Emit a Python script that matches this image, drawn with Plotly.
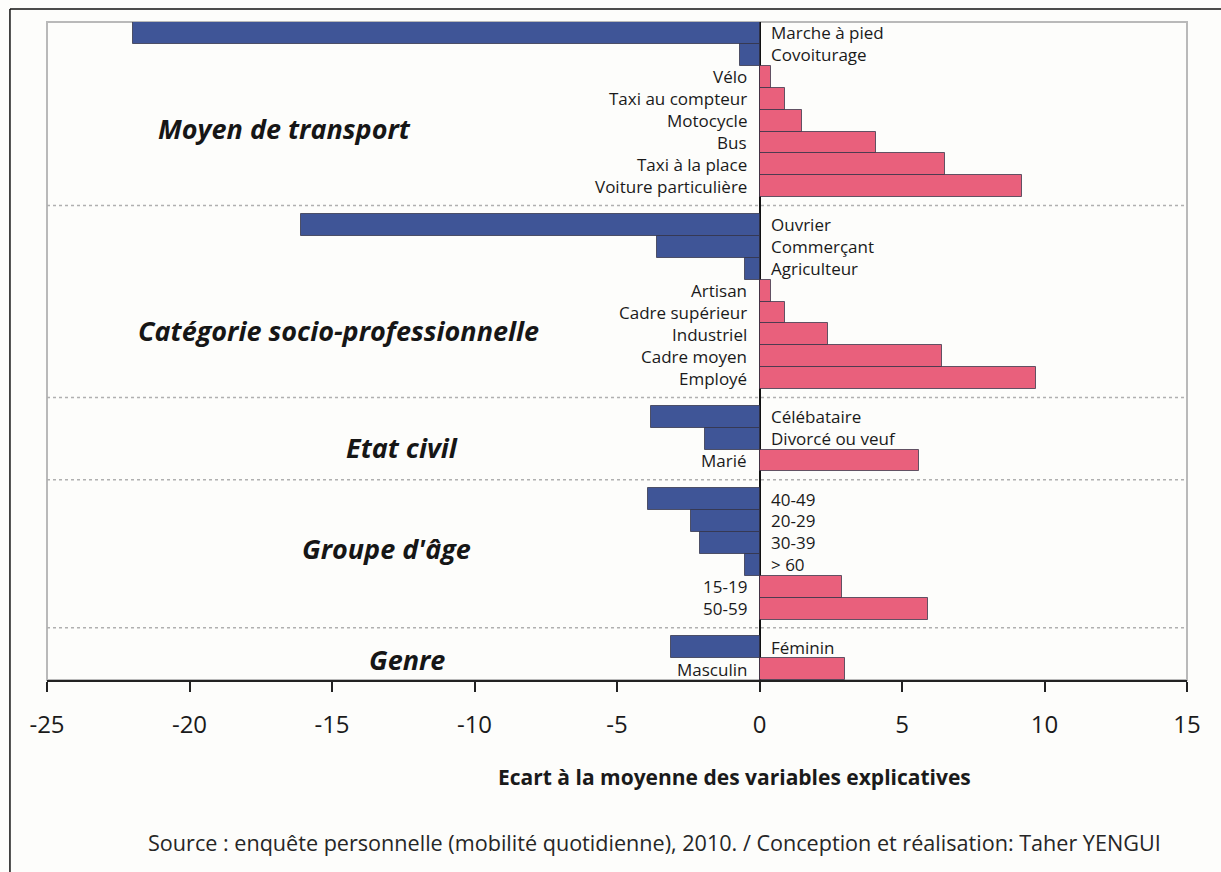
import plotly.graph_objects as go

# Ecarts à la moyenne, par variable explicative
groups = ["Moyen de transport", "Catégorie socio-professionnelle",
          "Etat civil", "Groupe d'âge", "Genre"]

transport_labels = ["Marche à pied", "Covoiturage", "Vélo", "Taxi au compteur",
                    "Motocycle", "Bus", "Taxi à la place", "Voiture particulière"]
transport_values = [-22.0, -0.7, 0.4, 0.9, 1.5, 4.1, 6.5, 9.2]

csp_labels = ["Ouvrier", "Commerçant", "Agriculteur", "Artisan",
              "Cadre supérieur", "Industriel", "Cadre moyen", "Employé"]
csp_values = [-16.1, -3.6, -0.5, 0.4, 0.9, 2.4, 6.4, 9.7]

civil_labels = ["Célébataire", "Divorcé ou veuf", "Marié"]
civil_values = [-3.8, -1.9, 5.6]

age_labels = ["40-49", "20-29", "30-39", "> 60", "15-19", "50-59"]
age_values = [-3.9, -2.4, -2.1, -0.5, 2.9, 5.9]

genre_labels = ["Féminin", "Masculin"]
genre_values = [-3.1, 3.0]

x_ticks = [-25, -20, -15, -10, -5, 0, 5, 10, 15]
x_title = "Ecart à la moyenne des variables explicatives"
source_text = ("Source : enquête personnelle (mobilité quotidienne), 2010. / "
               "Conception et réalisation: Taher YENGUI")

group_rows = [
    (transport_labels, transport_values),
    (csp_labels, csp_values),
    (civil_labels, civil_values),
    (age_labels, age_values),
    (genre_labels, genre_values),
]

# Row positions: one slot per bar, with a small gap between groups
GAP = 0.76
labels, values, ypos, separators = [], [], [], []
slot = 0.0
for gi, (lab, val) in enumerate(group_rows):
    if gi > 0:
        separators.append(slot - 0.5 + GAP / 2)
        slot += GAP
    for l, v in zip(lab, val):
        labels.append(l)
        values.append(v)
        ypos.append(slot)
        slot += 1

BLUE = "#3f5597"
PINK = "#e9607c"
FONT = "Open Sans"
colors = [BLUE if v < 0 else PINK for v in values]

fig = go.Figure()
fig.add_trace(go.Bar(
    x=values, y=ypos, orientation="h", width=1,
    marker=dict(color=colors, line=dict(color="rgba(50,50,70,0.75)", width=1)),
    hoverinfo="skip", showlegend=False,
))

annotations = []
# Category labels beside the zero line, on the side opposite the bar
for l, v, y in zip(labels, values, ypos):
    annotations.append(dict(
        x=0, y=y, xref="x", yref="y", text=l, showarrow=False,
        xanchor="left" if v < 0 else "right",
        xshift=10 if v < 0 else -12, borderpad=0,
        font=dict(family=FONT, size=17, color="#1a1a1a"),
    ))

# Group headings (paper coordinates)
heading_pos = [(0.2079, 0.8389), (0.2553, 0.5304), (0.3114, 0.3526),
               (0.2974, 0.2006), (0.3158, 0.0319)]
for g, (px, py) in zip(groups, heading_pos):
    annotations.append(dict(
        x=px, y=py, xref="paper", yref="paper", text=f"<b><i>{g}</i></b>",
        showarrow=False, xanchor="center", yanchor="middle",
        font=dict(family=FONT, size=27, color="#161616"),
    ))

annotations.append(dict(
    x=0.6035, y=-0.1474, xref="paper", yref="paper", text=f"<b>{x_title}</b>",
    showarrow=False, xanchor="center", yanchor="middle",
    font=dict(family=FONT, size=21, color="#1a1a1a"),
))
annotations.append(dict(
    x=0.533, y=-0.2477, xref="paper", yref="paper", text=source_text,
    showarrow=False, xanchor="center", yanchor="middle",
    font=dict(family=FONT, size=21.6, color="#262626"),
))

shapes = []
# light frame around the plotting area
shapes.append(dict(type="rect", xref="paper", yref="paper", x0=0, x1=1, y0=0, y1=1,
                   line=dict(color="#b9b9b9", width=2), layer="below"))
# dotted separators between groups
for s in separators:
    shapes.append(dict(type="line", xref="paper", yref="y", x0=0, x1=1, y0=s, y1=s,
                       line=dict(color="#b0b0b0", width=1.5, dash="dot"), layer="below"))
# outer page frame (top and left edges)
shapes.append(dict(type="line", xref="paper", yref="paper", x0=-0.0325, x1=1.04,
                   y0=1.0198, y1=1.0198, line=dict(color="#111", width=1.5)))
shapes.append(dict(type="line", xref="paper", yref="paper", x0=-0.0325, x1=-0.0325,
                   y0=1.0198, y1=-0.31, line=dict(color="#111", width=1.5)))

fig.update_layout(
    width=1221, height=872,
    margin=dict(l=47, r=34, t=22, b=192),
    paper_bgcolor="#fdfdfb", plot_bgcolor="#fdfdfb",
    bargap=0,
    font=dict(family=FONT, color="#1a1a1a"),
    annotations=annotations, shapes=shapes,
    xaxis=dict(
        range=[-25, 15], tickvals=x_ticks, ticktext=[str(t) for t in x_ticks],
        showgrid=False, zeroline=True, zerolinecolor="#111", zerolinewidth=2,
        showline=True, linecolor="#222", linewidth=2,
        ticks="outside", ticklen=10, tickwidth=2, tickcolor="#222",
        ticklabelstandoff=12,
        tickfont=dict(family=FONT, size=24, color="#1a1a1a"),
        fixedrange=True,
    ),
    yaxis=dict(range=[ypos[-1] + 0.5, -0.5], visible=False, fixedrange=True),
)

fig.write_html("out.html")
